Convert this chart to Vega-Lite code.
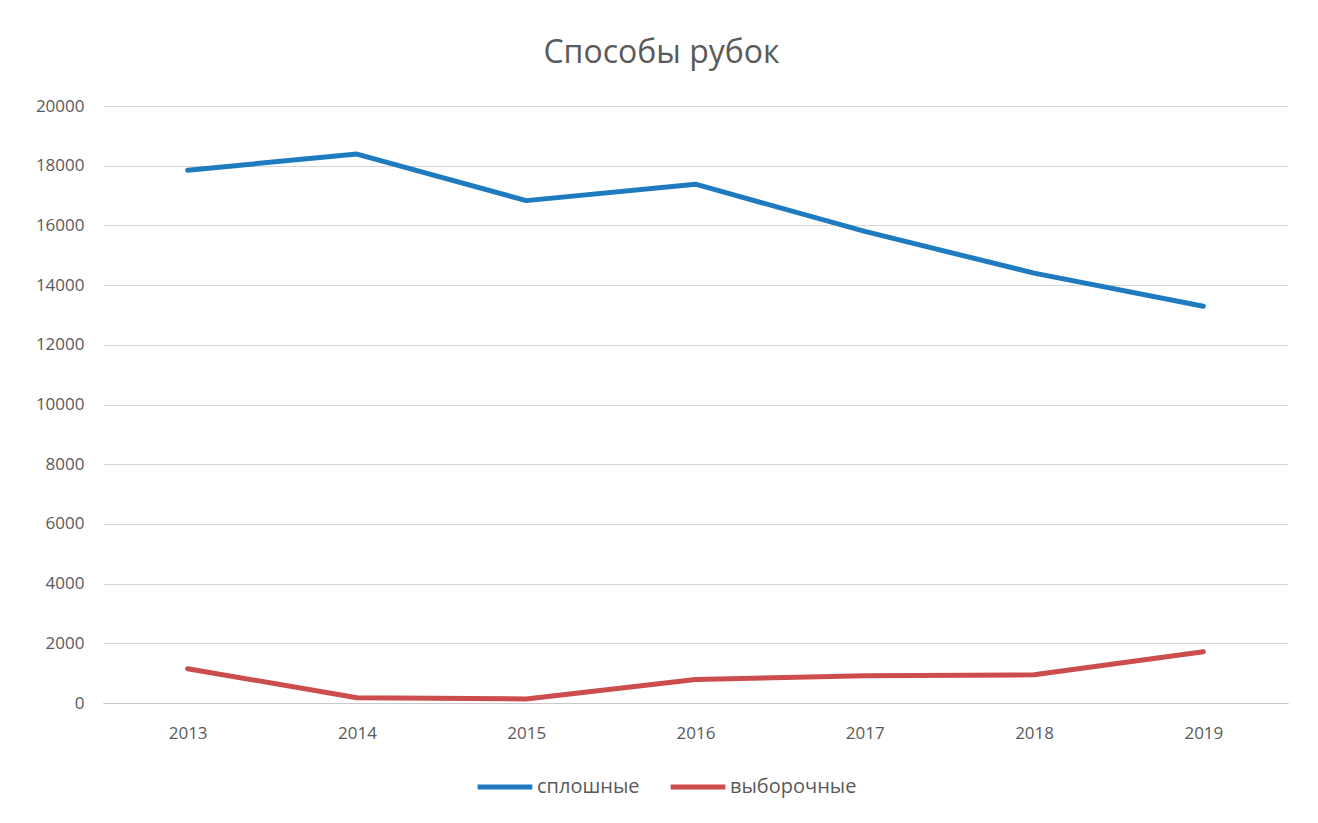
{
  "$schema": "https://vega.github.io/schema/vega-lite/v6.json",
  "width": 1185,
  "height": 597,
  "autosize": {"type": "none"},
  "padding": {"left": 103, "top": 106, "right": 30, "bottom": 120},
  "background": "white",
  "title": {
    "text": "Способы рубок",
    "fontSize": 32,
    "font": "Open Sans",
    "fontWeight": "normal",
    "color": "#5a5a5a",
    "anchor": "middle",
    "offset": 27,
    "dx": -34
  },
  "config": {
    "view": {"stroke": null},
    "font": "Open Sans"
  },
  "data": {
    "values": [
      {"year": "2013", "series": "сплошные", "value": 17850},
      {"year": "2014", "series": "сплошные", "value": 18390},
      {"year": "2015", "series": "сплошные", "value": 16830},
      {"year": "2016", "series": "сплошные", "value": 17380},
      {"year": "2017", "series": "сплошные", "value": 15800},
      {"year": "2018", "series": "сплошные", "value": 14400},
      {"year": "2019", "series": "сплошные", "value": 13290},
      {"year": "2013", "series": "выборочные", "value": 1150},
      {"year": "2014", "series": "выборочные", "value": 175},
      {"year": "2015", "series": "выборочные", "value": 135},
      {"year": "2016", "series": "выборочные", "value": 790},
      {"year": "2017", "series": "выборочные", "value": 910},
      {"year": "2018", "series": "выборочные", "value": 945},
      {"year": "2019", "series": "выборочные", "value": 1715}
    ]
  },
  "mark": {"type": "line", "strokeWidth": 5, "strokeCap": "round", "strokeJoin": "round"},
  "encoding": {
    "x": {
      "field": "year",
      "type": "ordinal",
      "scale": {"type": "point", "padding": 0.5},
      "axis": {
        "title": null,
        "labelAngle": 0,
        "labelFontSize": 17,
        "labelColor": "#5a5a5a",
        "labelPadding": 22,
        "ticks": false,
        "domain": true,
        "domainColor": "#c8c8c8",
        "grid": false
      }
    },
    "y": {
      "field": "value",
      "type": "quantitative",
      "scale": {"domain": [0, 20000]},
      "axis": {
        "title": null,
        "values": [0, 2000, 4000, 6000, 8000, 10000, 12000, 14000, 16000, 18000, 20000],
        "format": "d",
        "labelFontSize": 17,
        "labelColor": "#5a5a5a",
        "labelPadding": 19,
        "ticks": false,
        "domain": false,
        "gridColor": "#d6d6d6",
        "gridWidth": 1
      }
    },
    "color": {
      "field": "series",
      "type": "nominal",
      "scale": {"domain": ["сплошные", "выборочные"], "range": ["#1f7bc0", "#cc4d4d"]},
      "legend": {
        "title": null,
        "orient": "none",
        "legendX": 372,
        "legendY": 651,
        "direction": "horizontal",
        "symbolType": "stroke",
        "symbolStrokeWidth": 5,
        "symbolSize": 3000,
        "labelOffset": 2,
        "labelFontSize": 20,
        "labelColor": "#5a5a5a",
        "columnPadding": 20
      }
    }
  }
}
